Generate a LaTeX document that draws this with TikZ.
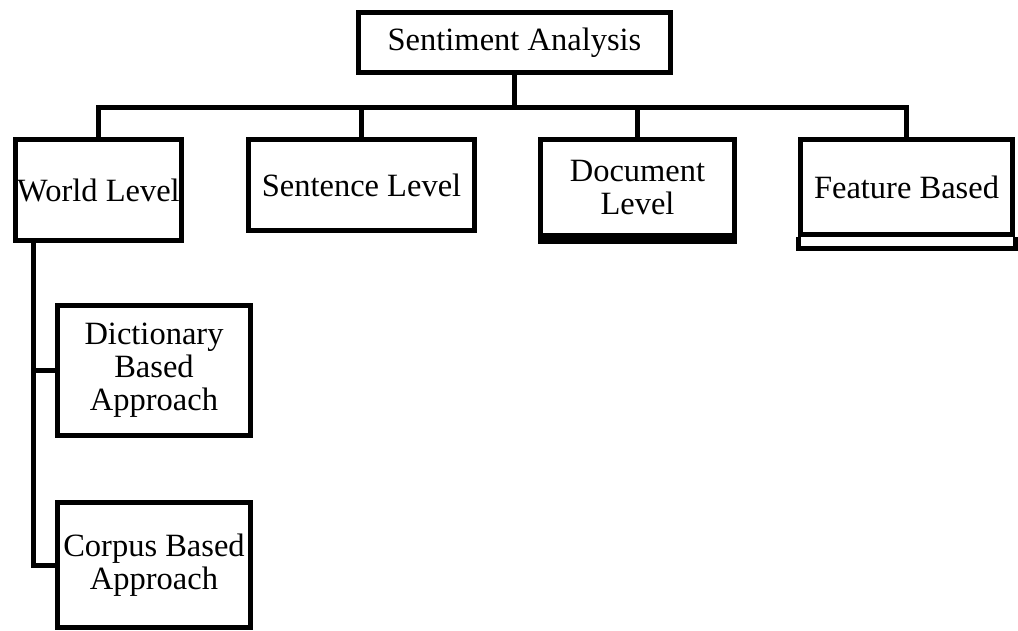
\documentclass[tikz,border=0pt]{standalone}
\usepackage{fontspec}
\setmainfont{Liberation Serif}
\begin{document}
\begin{tikzpicture}[x=1pt,y=1pt,
  box/.style={draw=black, line width=5pt, fill=white, align=center, inner sep=0pt,
    font=\fontsize{32.5}{33}\selectfont},
  link/.style={draw=black, line width=5pt, line join=miter, line cap=rect}]
\useasboundingbox (0,0) rectangle (1018,-630);
\coordinate (j) at (514.5,-107);
\coordinate (wl) at (33,-240.5);
% nodes
\node[box, minimum width=312pt, minimum height=60pt] (top) at (514.5,-42.5) {Sentiment Analysis};
\node[box, minimum width=166pt, minimum height=101pt] (world) at (98.5,-190) {World Level};
\node[box, minimum width=226pt, minimum height=91pt] (sentence) at (361.5,-185) {Sentence Level};
\node[box, minimum width=194pt, minimum height=96pt] (document) at (637.5,-187.5) {Document\\Level};
\node[box, minimum width=212pt, minimum height=95pt] (feature) at (906.5,-187) {Feature Based};
\node[box, minimum width=193pt, minimum height=130pt] (dict) at (154,-370.5) {Dictionary\\Based\\Approach};
\node[box, minimum width=193pt, minimum height=125pt] (corpus) at (154,-565) {Corpus Based\\Approach};
% extra bottom borders
\draw[line width=9pt] ([yshift=-1pt]document.south west) -- ([yshift=-1pt]document.south east);
\draw[line width=5pt, line join=miter] (feature.south west) -- ++(0,-11.5) -| (feature.south east);
% connectors
\draw[link] (top.south) -- (j);
\draw[link] (world.north) |- (j) -| (feature.north);
\draw[link] (sentence.north) -- (sentence.north |- j);
\draw[link] (document.north) -- (document.north |- j);
\draw[link] (wl) |- (corpus.west);
\draw[link] (dict.west) -- (dict.west -| wl);
\end{tikzpicture}
\end{document}
